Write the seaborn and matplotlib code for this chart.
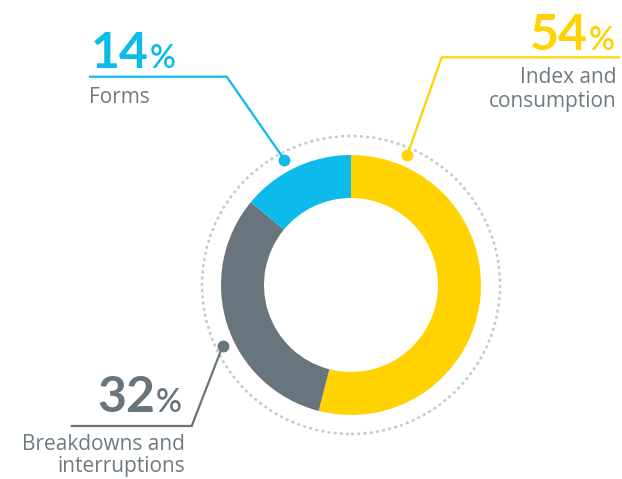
import matplotlib
matplotlib.use("Agg")
import matplotlib.pyplot as plt
from matplotlib.patches import Circle
import numpy as np
import seaborn as sns

# Share of requests by topic
categories = ["Index and\nconsumption", "Breakdowns and\ninterruptions", "Forms"]
shares = [54, 32, 14]
colors = ["#FFD200", "#69757C", "#0DBAEC"]

sns.set_theme(style="white")
plt.rcParams["font.family"] = ["Lato", "DejaVu Sans"]

W, H = 622, 479
fig = plt.figure(figsize=(W / 100, H / 100), dpi=100)
ax = fig.add_axes([0, 0, 1, 1])

cx, cy = 351, H - 285
R_OUT, RING_W = 130, 43

ax.pie(shares, colors=colors, startangle=90, counterclock=False,
       radius=R_OUT, center=(cx, cy), frame=False,
       wedgeprops=dict(width=RING_W, linewidth=0))

ax.set_xlim(0, W)
ax.set_ylim(0, H)
ax.set_aspect("equal")
ax.axis("off")

# dotted guide ring
ax.add_patch(Circle((cx, cy), 149, fill=False, edgecolor="#C3CACF",
                    linewidth=1.8, linestyle=(0, (1.2, 1.3))))

label_grey = "#6E7A81"
label_font = ["Open Sans", "DejaVu Sans"]

# callout layout per category: dot angle, elbow point, line end x,
# number position, label anchor/alignment, label line baselines
layout = [
    dict(ang=66.6, elbow=(441.7, 57.3), end_x=620, num_x=530, num_y=50,
         lab_x=617, ha="right", lab_y=[83.3, 107]),
    dict(ang=205.4, elbow=(191.7, 426), end_x=70.7, num_x=97, num_y=411.5,
         lab_x=185, ha="right", lab_y=[450.5, 472]),
    dict(ang=118.0, elbow=(226.7, 76.7), end_x=89, num_x=91, num_y=68.3,
         lab_x=89, ha="left", lab_y=[103]),
]

renderer = fig.canvas.get_renderer()
for share, cat, col, lay in zip(shares, categories, colors, layout):
    a = np.deg2rad(lay["ang"])
    dx, dy = cx + 142 * np.cos(a), cy + 142 * np.sin(a)
    ex, ey = lay["elbow"][0], H - lay["elbow"][1]
    ax.plot([dx, ex, lay["end_x"]], [dy, ey, ey], color=col, linewidth=1.6,
            solid_joinstyle="miter", solid_capstyle="butt", zorder=3)
    ax.plot([dx], [dy], marker="o", markersize=7.5, color=col, zorder=4)

    num = ax.text(lay["num_x"], H - lay["num_y"], f"{share}", color=col,
                  fontsize=36, fontweight="bold", ha="left", va="baseline")
    bb = num.get_window_extent(renderer)
    x_pct = ax.transData.inverted().transform((bb.x1, bb.y0))[0] + 1
    ax.text(x_pct, H - lay["num_y"], "%", color=col, fontsize=23,
            fontweight="semibold", ha="left", va="baseline")
    for line, by in zip(cat.split("\n"), lay["lab_y"]):
        ax.text(lay["lab_x"], H - by, line, color=label_grey, fontsize=15,
                family=label_font, ha=lay["ha"], va="baseline")

fig.savefig("out.png", dpi=100, facecolor="white")
